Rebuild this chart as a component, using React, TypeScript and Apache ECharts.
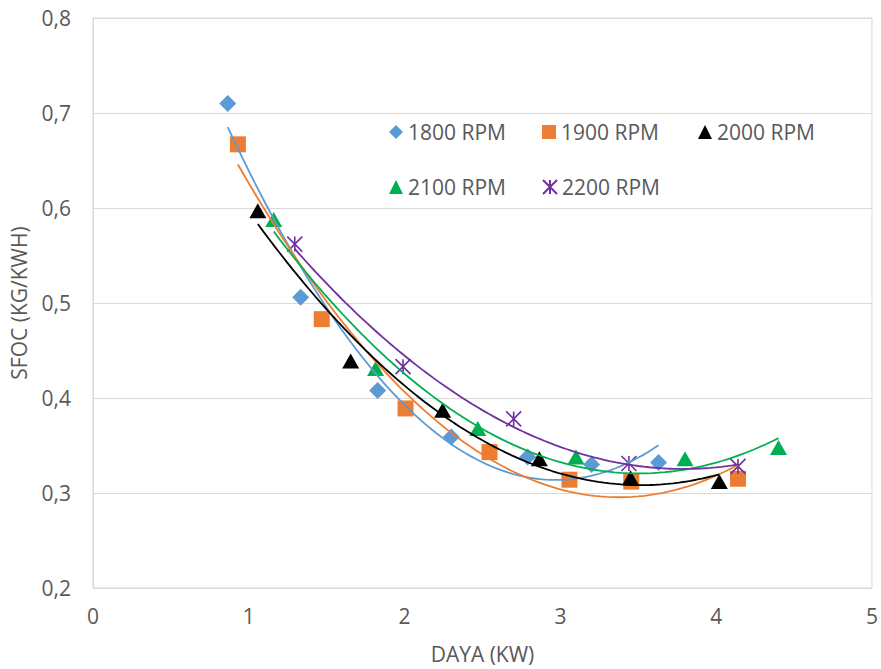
import React, { useEffect, useRef } from "react";
import * as echarts from "echarts";

const seriesNames = ["1800 RPM", "1900 RPM", "2000 RPM", "2100 RPM", "2200 RPM"];
const colors = ["#5B9BD5", "#ED7D31", "#000000", "#00B050", "#7030A0"];

const rpm1800: [number, number][] = [
  [0.865, 0.71], [1.333, 0.506], [1.827, 0.408], [2.3, 0.359], [2.79, 0.338], [3.2, 0.33], [3.63, 0.332],
];
const rpm1900: [number, number][] = [
  [0.93, 0.667], [1.468, 0.483], [2.006, 0.389], [2.545, 0.343], [3.058, 0.314], [3.455, 0.312], [4.14, 0.315],
];
const rpm2000: [number, number][] = [
  [1.058, 0.597], [1.654, 0.439], [2.244, 0.387], [2.865, 0.336], [3.45, 0.316], [4.02, 0.312],
];
const rpm2100: [number, number][] = [
  [1.16, 0.588], [1.814, 0.431], [2.47, 0.368], [3.1, 0.338], [3.8, 0.336], [4.4, 0.348],
];
const rpm2200: [number, number][] = [
  [1.295, 0.562], [1.99, 0.433], [2.7, 0.378], [3.44, 0.331], [4.14, 0.328],
];

const allData = [rpm1800, rpm1900, rpm2000, rpm2100, rpm2200];
const xTicks = { min: 0, max: 5, interval: 1 };
const yTicks = { min: 0.2, max: 0.8, interval: 0.1 };

const STAR = "path://M0,0 L10,10 M10,0 L0,10 M5,0 L5,10";
const symbols = ["diamond", "rect", "triangle", "triangle", STAR];

// Excel-like polynomial (order 2) trendline computed from the data
function quadFit(pts: [number, number][]) {
  let s0 = 0, s1 = 0, s2 = 0, s3 = 0, s4 = 0, t0 = 0, t1 = 0, t2 = 0;
  for (const [x, y] of pts) {
    s0 += 1; s1 += x; s2 += x * x; s3 += x ** 3; s4 += x ** 4;
    t0 += y; t1 += x * y; t2 += x * x * y;
  }
  const M = [
    [s0, s1, s2, t0],
    [s1, s2, s3, t1],
    [s2, s3, s4, t2],
  ];
  for (let i = 0; i < 3; i++) {
    for (let k = i + 1; k < 3; k++) {
      const f = M[k][i] / M[i][i];
      for (let j = i; j < 4; j++) M[k][j] -= f * M[i][j];
    }
  }
  const c = [0, 0, 0];
  for (let i = 2; i >= 0; i--) {
    let s = M[i][3];
    for (let j = i + 1; j < 3; j++) s -= M[i][j] * c[j];
    c[i] = s / M[i][i];
  }
  const xs = pts.map((p) => p[0]);
  const lo = Math.min(...xs), hi = Math.max(...xs);
  const out: [number, number][] = [];
  const n = 80;
  for (let i = 0; i <= n; i++) {
    const x = lo + ((hi - lo) * i) / n;
    out.push([x, c[0] + c[1] * x + c[2] * x * x]);
  }
  return out;
}

const FONT = "Open Sans";
const legendPos = [
  { left: 384, top: 115 },
  { left: 537, top: 115 },
  { left: 693, top: 115 },
  { left: 384, top: 170 },
  { left: 537, top: 170 },
];

export default function App() {
  const ref = useRef<HTMLDivElement>(null);
  useEffect(() => {
    if (!ref.current) return;
    const chart = echarts.init(ref.current, undefined, { renderer: "svg" });
    const scatterSeries = allData.map((d, i) => ({
      name: seriesNames[i],
      type: "scatter",
      data: d,
      symbol: symbols[i],
      symbolSize: i === 4 ? 15 : i === 1 ? 16 : i >= 2 ? [17, 15] : 17,
      itemStyle:
        i === 4
          ? { color: "rgba(0,0,0,0)", borderColor: colors[i], borderWidth: 1.6, opacity: 1 }
          : { color: colors[i], opacity: 1 },
      z: 2,
    }));
    const lineSeries = allData.map((d, i) => ({
      name: seriesNames[i] + " trend",
      type: "line",
      data: quadFit(d),
      showSymbol: false,
      symbol: "none",
      lineStyle: { color: colors[i], width: 1.8 },
      z: 3,
      silent: true,
    }));
    chart.setOption({
      animation: false,
      backgroundColor: "#ffffff",
      grid: {
        left: 93, right: 8, top: 18, bottom: 79,
        show: true, borderColor: "#d9d9d9", borderWidth: 1,
      },
      legend: seriesNames.map((n, i) => ({
        data: [{ name: n, icon: symbols[i] }],
        left: legendPos[i].left,
        top: legendPos[i].top,
        itemWidth: 14,
        itemHeight: 14,
        itemGap: 0,
        textStyle: { fontFamily: FONT, fontSize: 21, lineHeight: 24, color: "#595959" },
        selectedMode: false,
      })),
      xAxis: {
        type: "value",
        min: xTicks.min, max: xTicks.max, interval: xTicks.interval,
        name: "DAYA (KW)",
        nameLocation: "middle",
        nameGap: 55,
        nameTextStyle: { fontFamily: FONT, fontSize: 21, color: "#595959" },
        axisLine: { show: true, lineStyle: { color: "#d9d9d9" } },
        axisTick: { show: false },
        splitLine: { show: false },
        axisLabel: { fontFamily: FONT, fontSize: 21, color: "#595959", margin: 17 },
      },
      yAxis: {
        type: "value",
        min: yTicks.min, max: yTicks.max, interval: yTicks.interval,
        name: "SFOC (KG/KWH)",
        nameLocation: "middle",
        nameGap: 64,
        nameTextStyle: { fontFamily: FONT, fontSize: 21, color: "#595959" },
        axisLine: { show: true, lineStyle: { color: "#d9d9d9" } },
        axisTick: { show: false },
        splitLine: { show: true, lineStyle: { color: "#d9d9d9", width: 1 } },
        axisLabel: {
          fontFamily: FONT, fontSize: 21, color: "#595959", margin: 22,
          formatter: (v: number) => v.toFixed(1).replace(".", ","),
        },
      },
      series: [...scatterSeries, ...lineSeries],
    });
    return () => chart.dispose();
  }, []);
  return <div ref={ref} style={{ width: 881, height: 669, position: "absolute", left: 0, top: 0 }} />;
}
